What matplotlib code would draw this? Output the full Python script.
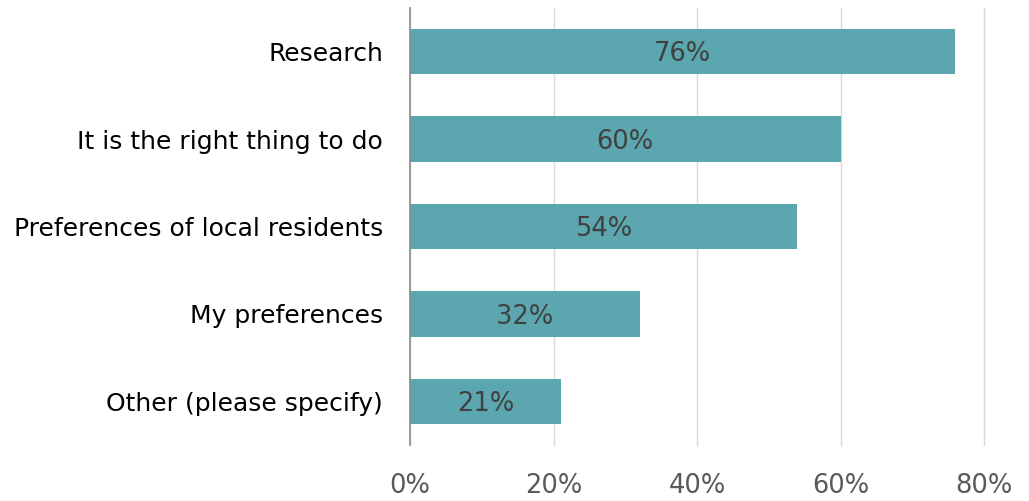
import matplotlib.pyplot as plt
from matplotlib.ticker import PercentFormatter

categories = ["Research", "It is the right thing to do", "Preferences of local residents",
              "My preferences", "Other (please specify)"]
values = [76, 60, 54, 32, 21]
xticks = [0, 20, 40, 60, 80]

bar_color = "#5BA6AF"

fig = plt.figure(figsize=(10.29, 5.01), dpi=100, facecolor="white")
ax = fig.add_axes([410 / 1029, 1 - 445 / 501, (984 - 410) / 1029, (445 - 8) / 501])

ypos = list(range(len(categories)))
bars = ax.barh(ypos, values, height=0.52, color=bar_color, zorder=2)

# value labels centred in each bar
for b, v in zip(bars, values):
    ax.text(b.get_width() / 2, b.get_y() + b.get_height() / 2 + 0.03, f"{v}%",
            ha="center", va="center", fontsize=18.5, color="#404040", zorder=3)

ax.set_yticks(ypos)
ax.set_yticklabels(categories, fontsize=18, color="black")
ax.set_ylim(len(categories) - 0.5, -0.5)

ax.set_xlim(0, 80)
ax.set_xticks(xticks)
ax.xaxis.set_major_formatter(PercentFormatter(decimals=0))
ax.tick_params(axis="x", labelsize=18.5, colors="#595959", length=0, pad=20)
ax.tick_params(axis="y", length=0, pad=19.5)

ax.grid(axis="x", color="#D9D9D9", linewidth=1, zorder=0)
for gl in ax.get_xgridlines():
    gl.set_clip_on(False)
for s in ["top", "right", "bottom"]:
    ax.spines[s].set_visible(False)
ax.spines["left"].set_color("#8C8C8C")
ax.spines["left"].set_linewidth(1.2)
ax.spines["left"].set_zorder(4)

fig.savefig("out.png", dpi=100, facecolor="white")
